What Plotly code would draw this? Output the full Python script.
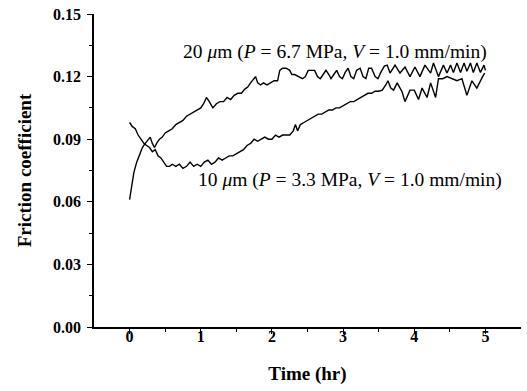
import plotly.graph_objects as go

# 20 um (P = 6.7 MPa, V = 1.0 mm/min)
t20 = [0, 0.03, 0.06, 0.1, 0.14, 0.18, 0.22, 0.26, 0.29, 0.32, 0.35, 0.38, 0.42, 0.46, 0.5, 0.55, 0.6, 0.65, 0.7, 0.75,
       0.8, 0.85, 0.9, 0.95, 1.0, 1.04, 1.08, 1.12, 1.17, 1.22, 1.27, 1.32, 1.37, 1.42, 1.47, 1.52, 1.57, 1.62, 1.66, 1.7,
       1.74, 1.77, 1.8, 1.84, 1.88, 1.93, 1.98, 2.03, 2.08, 2.11, 2.15, 2.2, 2.25, 2.28, 2.32, 2.38, 2.43, 2.47, 2.51, 2.55,
       2.6, 2.64, 2.68, 2.72, 2.76, 2.8, 2.83, 2.87, 2.91, 2.95, 2.99, 3.03, 3.07, 3.11, 3.15, 3.19, 3.24, 3.28, 3.32, 3.36,
       3.4, 3.45, 3.49, 3.53, 3.58, 3.62, 3.66, 3.73, 3.8, 3.87, 3.94, 4.01, 4.08, 4.15, 4.23, 4.27, 4.34, 4.41, 4.46, 4.51,
       4.55, 4.6, 4.65, 4.7, 4.74, 4.79, 4.83, 4.88, 4.93, 4.98, 5.0]
f20 = [0.061, 0.068, 0.074, 0.079, 0.083, 0.086, 0.088, 0.090, 0.091, 0.088, 0.086, 0.088, 0.090, 0.091, 0.093, 0.094,
       0.095, 0.097, 0.098, 0.099, 0.101, 0.102, 0.103, 0.104, 0.105, 0.107, 0.110, 0.108, 0.105, 0.107, 0.108, 0.108,
       0.110, 0.109, 0.111, 0.112, 0.112, 0.114, 0.115, 0.117, 0.119, 0.120, 0.117, 0.116, 0.117, 0.116, 0.117, 0.118,
       0.118, 0.123, 0.124, 0.124, 0.123, 0.121, 0.121, 0.120, 0.119, 0.120, 0.123, 0.123, 0.123, 0.120, 0.119, 0.121,
       0.123, 0.121, 0.119, 0.121, 0.123, 0.120, 0.119, 0.122, 0.124, 0.120, 0.119, 0.123, 0.124, 0.120, 0.119, 0.124,
       0.124, 0.120, 0.119, 0.122, 0.125, 0.1255, 0.1217, 0.1255, 0.1217, 0.1246, 0.120, 0.1246, 0.120, 0.1255, 0.1217,
       0.1265, 0.120, 0.1255, 0.1217, 0.1255, 0.122, 0.1265, 0.122, 0.1265, 0.1226, 0.1265, 0.122, 0.1265, 0.122, 0.1255,
       0.123]

# 10 um (P = 3.3 MPa, V = 1.0 mm/min)
t10 = [0, 0.04, 0.08, 0.12, 0.16, 0.2, 0.24, 0.28, 0.32, 0.36, 0.4, 0.44, 0.48, 0.52, 0.56, 0.6, 0.65, 0.7, 0.75, 0.8,
       0.85, 0.9, 0.95, 1.0, 1.05, 1.1, 1.15, 1.2, 1.25, 1.3, 1.35, 1.4, 1.45, 1.5, 1.55, 1.6, 1.65, 1.7, 1.75, 1.8, 1.85,
       1.9, 1.95, 2.0, 2.05, 2.1, 2.15, 2.2, 2.25, 2.3, 2.33, 2.36, 2.4, 2.45, 2.5, 2.55, 2.6, 2.65, 2.7, 2.75, 2.8, 2.85,
       2.9, 2.95, 3.0, 3.05, 3.1, 3.15, 3.2, 3.25, 3.3, 3.35, 3.4, 3.45, 3.5, 3.55, 3.6, 3.63, 3.67, 3.71, 3.76, 3.83,
       3.87, 3.94, 4.0, 4.06, 4.11, 4.18, 4.23, 4.3, 4.34, 4.4, 4.46, 4.53, 4.6, 4.67, 4.74, 4.81, 4.88, 4.96, 4.99]
f10 = [0.098, 0.096, 0.095, 0.092, 0.090, 0.088, 0.087, 0.086, 0.084, 0.085, 0.082, 0.081, 0.079, 0.077, 0.077, 0.078,
       0.077, 0.078, 0.076, 0.077, 0.079, 0.077, 0.078, 0.077, 0.079, 0.080, 0.078, 0.079, 0.081, 0.080, 0.081, 0.082,
       0.082, 0.083, 0.084, 0.085, 0.087, 0.088, 0.090, 0.089, 0.090, 0.091, 0.090, 0.090, 0.092, 0.091, 0.092, 0.092,
       0.092, 0.094, 0.097, 0.094, 0.097, 0.098, 0.099, 0.100, 0.101, 0.102, 0.102, 0.103, 0.104, 0.104, 0.105, 0.105,
       0.106, 0.107, 0.108, 0.108, 0.109, 0.110, 0.111, 0.112, 0.112, 0.113, 0.113, 0.1135, 0.116, 0.118, 0.1145, 0.1135,
       0.117, 0.1126, 0.108, 0.1135, 0.1135, 0.109, 0.1145, 0.110, 0.117, 0.110, 0.119, 0.119, 0.120, 0.119, 0.118,
       0.119, 0.111, 0.118, 0.1145, 0.120, 0.1217]

label20 = "20 <i>μ</i>m (<i>P</i> = 6.7 MPa, <i>V</i> = 1.0 mm/min)"
label10 = "10 <i>μ</i>m (<i>P</i> = 3.3 MPa, <i>V</i> = 1.0 mm/min)"
xtitle = "Time (hr)"
ytitle = "Friction coefficient"

SERIF = "Liberation Serif, Times New Roman, serif"

fig = go.Figure()
fig.add_trace(go.Scatter(x=t20, y=f20, mode="lines", line=dict(color="black", width=1.4), showlegend=False))
fig.add_trace(go.Scatter(x=t10, y=f10, mode="lines", line=dict(color="black", width=1.4), showlegend=False))

fig.add_annotation(x=0.72, y=0.1318, text=label20, showarrow=False, xanchor="left", yanchor="middle",
                   font=dict(family=SERIF, size=19.5, color="black"))
fig.add_annotation(x=0.94, y=0.0704, text=label10, showarrow=False, xanchor="left", yanchor="middle",
                   font=dict(family=SERIF, size=19.5, color="black"))

axis_common = dict(showline=True, linecolor="black", linewidth=1.5, ticks="outside", ticklen=5, tickwidth=1.3,
                   tickcolor="black", showgrid=False, zeroline=False, mirror=False,
                   tickfont=dict(family=SERIF, size=16, color="black", weight="bold"))

fig.update_xaxes(range=[-0.5, 5.5], tickmode="array", tickvals=[0, 1, 2, 3, 4, 5], ticklabelstandoff=-11,
                 minor=dict(tickvals=[0.5, 1.5, 2.5, 3.5, 4.5], ticks="outside", ticklen=3, tickcolor="black", tickwidth=1.2),
                 title=dict(text=xtitle, font=dict(family=SERIF, size=19, color="black", weight="bold"), standoff=23),
                 **axis_common)
fig.update_yaxes(range=[0, 0.15], tickmode="array", tickvals=[0, 0.03, 0.06, 0.09, 0.12, 0.15], tickformat=".2f",
                 ticklabelstandoff=3,
                 minor=dict(tickvals=[0.015, 0.045, 0.075, 0.105, 0.135], ticks="outside", ticklen=3, tickcolor="black", tickwidth=1.2),
                 title=dict(text=ytitle, font=dict(family=SERIF, size=19, color="black", weight="bold"), standoff=16),
                 **axis_common)

fig.update_layout(width=527, height=391, margin=dict(l=94, r=6, t=14, b=64, autoexpand=False),
                  plot_bgcolor="white", paper_bgcolor="white")

# remove the default page margin so the figure sits at the window's top-left corner
fig.write_html("out.html", config={"displayModeBar": False},
               post_script="document.body.style.margin='0';")
